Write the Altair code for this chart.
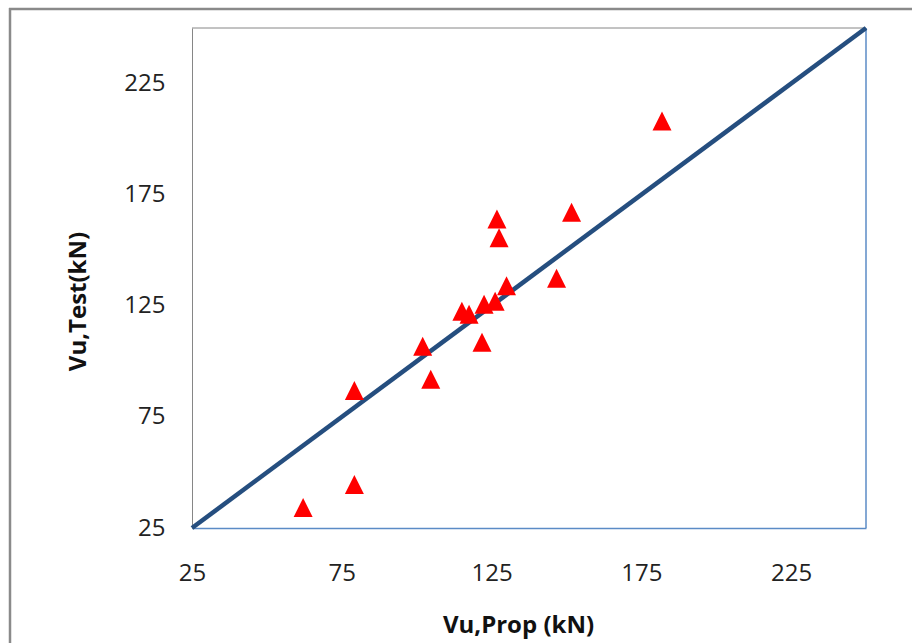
import altair as alt
import pandas as pd

# Data
prop_kn = [126.8, 127.5, 151.7, 146.7, 130.0, 122.5, 126.2, 115.1, 117.5,
           121.8, 102.0, 104.7, 79.2, 79.2, 62.1, 181.9]
test_kn = [164.0, 155.6, 167.1, 137.4, 134.0, 125.7, 127.0, 122.5, 121.2,
           108.6, 106.8, 91.9, 86.9, 44.6, 34.2, 208.1]
line_x = [25, 250]
line_y = [25, 250]
tick_values = [25, 75, 125, 175, 225]

pts = pd.DataFrame({"prop": prop_kn, "test": test_kn})
ln = pd.DataFrame({"prop": line_x, "test": line_y})
one = pd.DataFrame({"a": [0]})

FONT = "Open Sans"
W, H = 674, 500

xscale = alt.Scale(domain=[25, 250], nice=False, zero=False)
yscale = alt.Scale(domain=[25, 250], nice=False, zero=False)

xaxis = alt.Axis(values=tick_values, title="Vu,Prop (kN)", ticks=False, grid=False,
                 domainColor="#5B8BC6", domainWidth=1.5, labelFlush=False,
                 labelFont=FONT, labelFontSize=24, labelColor="#222222", labelPadding=33,
                 titleFont=FONT, titleFontSize=24, titleFontWeight="bold", titleColor="#111111",
                 titleX=326, titleY=97, titleAlign="center", titleBaseline="middle")
yaxis = alt.Axis(values=tick_values, title="Vu,Test(kN)", ticks=False, grid=False,
                 domainColor="#868686", domainWidth=1, labelFlush=False,
                 labelFont=FONT, labelFontSize=24, labelColor="#222222", labelPadding=27,
                 titleFont=FONT, titleFontSize=24, titleFontWeight="bold", titleColor="#111111",
                 titleAngle=270, titleX=-114, titleY=273, titleAlign="center",
                 titleBaseline="middle")

line = alt.Chart(ln).mark_line(color="#254E7F", strokeWidth=4.5, clip=False).encode(
    x=alt.X("prop:Q", scale=xscale, axis=xaxis),
    y=alt.Y("test:Q", scale=yscale, axis=yaxis),
)

points = alt.Chart(pts).mark_point(
    shape="M0,-1L1,1L-1,1Z", filled=True, size=361, color="#FF0000", opacity=1
).encode(
    x=alt.X("prop:Q", scale=xscale),
    y=alt.Y("test:Q", scale=yscale),
)

# plot-area top border (gray) and right border (blue)
top_rule = alt.Chart(one).mark_rule(color="#868686", strokeWidth=1).encode(
    x=alt.value(0), x2=alt.value(W), y=alt.value(0)
)
right_rule = alt.Chart(one).mark_rule(color="#5B8BC6", strokeWidth=1.5).encode(
    x=alt.value(W), y=alt.value(0), y2=alt.value(H)
)
# outer chart frame (gray)
outer_top = alt.Chart(one).mark_rule(color="#8A8A8A", strokeWidth=2.5).encode(
    x=alt.value(-183), x2=alt.value(760), y=alt.value(-19)
)
outer_left = alt.Chart(one).mark_rule(color="#8A8A8A", strokeWidth=2.5).encode(
    x=alt.value(-182), y=alt.value(-20), y2=alt.value(660)
)

chart = alt.layer(outer_top, outer_left, top_rule, right_rule, line, points).properties(
    width=W, height=H,
    autosize=alt.AutoSizeParams(type="none"),
    padding={"left": 192, "top": 28, "right": 46, "bottom": 115},
    background="white",
).configure_view(strokeWidth=0)

chart.save("out.html", embed_options={"renderer": "svg", "actions": False})
